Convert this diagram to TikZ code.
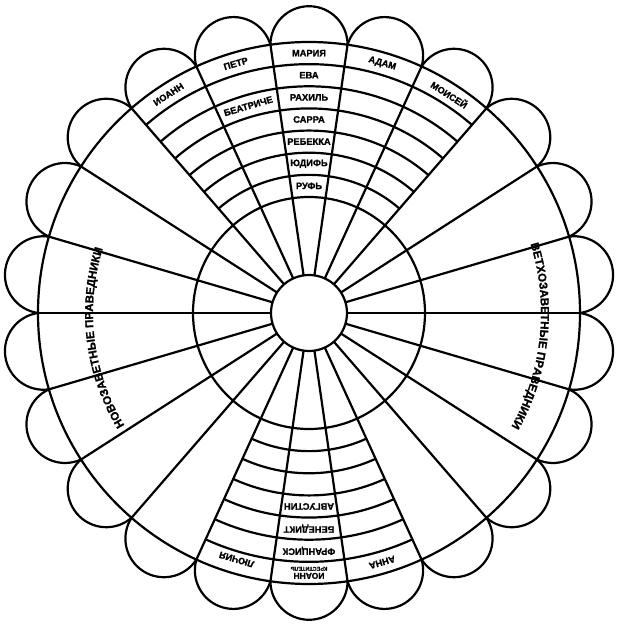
\documentclass[tikz,border=0pt]{standalone}
\usepackage{fontspec}
\setmainfont[BoldFeatures={FakeBold=1.2}]{Liberation Sans}
\usetikzlibrary{decorations.text}
\begin{document}
\begin{tikzpicture}[x=1pt,y=1pt,line width=2.2pt,line join=round,
  nm/.style={font=\bfseries\fontsize{9.3}{10}\selectfont,inner sep=0pt},
  bigtext/.style={decorate,decoration={text along path,text align=center,
    text={|\bfseries\fontsize{11.5}{13}\selectfont|#1}}}]
\useasboundingbox (-309,-313) rectangle (309,313);
\def\Ro{271}
\def\Rm{116}
\def\Ri{38}
% circles
\draw (0,0) circle[radius=\Ri];
\draw (0,0) circle[radius=\Rm];
\draw (0,0) circle[radius=\Ro];
% spokes
\foreach \k in {0,...,21}{
  \pgfmathsetmacro\a{\k*360/22}
  \draw (\a:\Ri) -- (\a:\Ro);
}
% petals
\foreach \k in {0,...,21}{
  \pgfmathsetmacro\a{\k*360/22}
  \pgfmathsetmacro\s{\a+180/22-90}
  \pgfmathsetmacro\e{\a+180/22+90}
  \draw (\a:\Ro) arc[start angle=\s,end angle=\e,radius=38.56];
}
% band arcs, upper and lower sectors
\pgfmathsetmacro\ua{3*360/22}
\pgfmathsetmacro\ub{8*360/22}
\pgfmathsetmacro\la{15*360/22}
\pgfmathsetmacro\lb{18*360/22}
\foreach \j in {1,...,6}{
  \pgfmathsetmacro\r{\Rm+\j*22.143}
  \draw (\ua:\r) arc[start angle=\ua,end angle=\ub,radius=\r];
  \draw (\la:\r) arc[start angle=\la,end angle=\lb,radius=\r];
}
% names, upper sector
\node[nm,rotate=0] (maria) at (90:259.9) {МАРИЯ};
\node[nm,rotate=0] (eva) at (90:237.8) {ЕВА};
\node[nm,rotate=0] (rahil) at (90:215.6) {РАХИЛЬ};
\node[nm,rotate=0] (sarra) at (90:193.5) {САРРА};
\node[nm,rotate=0] (rebekka) at (90:171.4) {РЕБЕККА};
\node[nm,rotate=0] (judif) at (90:149.2) {ЮДИФЬ};
\node[nm,rotate=0] (ruf) at (90:127.1) {РУФЬ};
\node[nm,rotate=16.36] (petr) at (106.36:259.9) {ПЕТР};
\node[nm,rotate=16.36] (beatriche) at (106.36:215.6) {БЕАТРИЧЕ};
\node[nm,rotate=32.73] (ioann) at (122.73:259.9) {ИОАНН};
\node[nm,rotate=-16.36] (adam) at (73.64:259.9) {АДАМ};
\node[nm,rotate=-32.73] (moisej) at (57.27:259.9) {МОИСЕЙ};
% names, lower sector
\node[nm,rotate=180,align=center,font=\bfseries\fontsize{8.5}{7}\selectfont] (ioannk) at (270:259.9)
  {ИОАНН\\[-1pt]{\fontsize{5.5}{6}\selectfont КРЕСТИТЕЛЬ}};
\node[nm,rotate=180] (francisk) at (270:237.8) {ФРАНЦИСК};
\node[nm,rotate=180] (benedikt) at (270:215.6) {БЕНЕДИКТ};
\node[nm,rotate=180] (avgustin) at (270:193.5) {АВГУСТИН};
\node[nm,rotate=163.64] (luchia) at (253.64:257) {ЛЮЧИЯ};
\node[nm,rotate=196.36] (anna) at (286.36:259.9) {АННА};
% curved labels
\path[bigtext={ВЕТХОЗАВЕТНЫЕ ПРАВЕДНИКИ}] (40:232) arc[start angle=40,end angle=-52,radius=232];
\path[bigtext={НОВОЗАВЕТНЫЕ ПРАВЕДНИКИ}] (233:216) arc[start angle=233,end angle=141,radius=216];
\end{tikzpicture}
\end{document}
